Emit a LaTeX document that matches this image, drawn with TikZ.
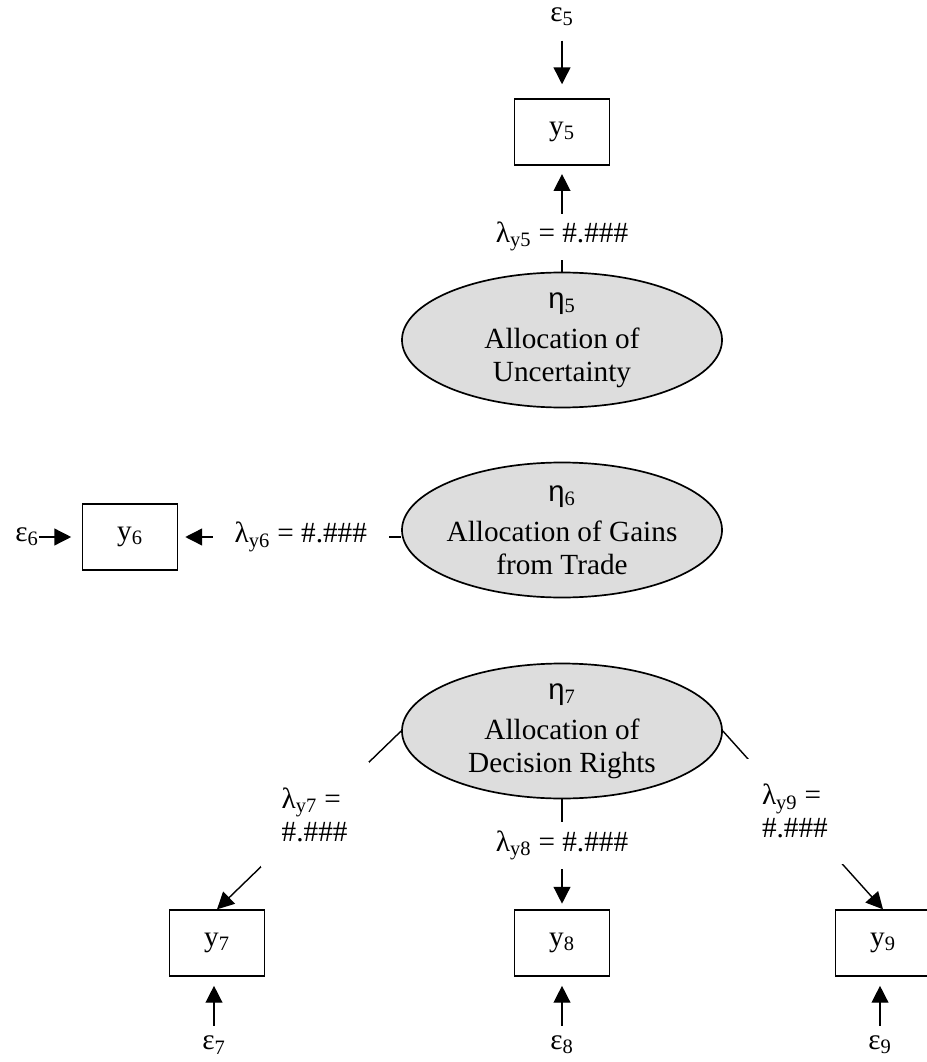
\documentclass[tikz,border=0pt]{standalone}
\usepackage{fontspec}
\setmainfont{Liberation Serif}
\newfontfamily\etafont{Liberation Sans}
\usetikzlibrary{arrows.meta, shapes.geometric}
\definecolor{LatentGray}{RGB}{221,221,221}

\tikzset{
  obs/.style={draw, line width=1pt, minimum width=67.6pt, minimum height=46.9pt, inner sep=0pt},
  latent/.style={ellipse, draw, line width=1.2pt, fill=LatentGray,
    minimum width=227.6pt, minimum height=96pt, inner xsep=-3pt, inner ysep=0pt, align=center},
  err/.style={inner sep=0pt},
  tip/.style={-{Triangle[length=12pt,width=12pt]}, line width=1pt},
  coef/.style={fill=white, inner xsep=15.5pt, inner ysep=6pt},
  coefpair/.style={fill=white, align=left, inner xsep=15pt, inner ysep=18pt},
}

\begin{document}
\begin{tikzpicture}[x=0.025cm, y=-0.025cm,
  every node/.style={font=\fontsize{20.8}{23.5}\selectfont}]
\useasboundingbox (0,0) rectangle (926,1062);

% latent constructs
\node[latent] (eta5) at (562,340) {{\etafont η}\textsubscript{5}\\[5pt]Allocation of\\Uncertainty};
\node[latent] (eta6) at (562,530) {{\etafont η}\textsubscript{6}\\[5pt]Allocation of Gains\\from Trade};
\node[latent] (eta7) at (562,731) {{\etafont η}\textsubscript{7}\\[5pt]Allocation of\\Decision Rights};

% indicators
\node[obs] (y5) at (562,132) {y\textsubscript{5}};
\node[obs] (y6) at (130,537) {y\textsubscript{6}};
\node[obs] (y7) at (217,943) {y\textsubscript{7}};
\node[obs] (y8) at (562,943) {y\textsubscript{8}};
\node[obs] (y9) at (883,943) {y\textsubscript{9}};

% error terms
\node[err] (e5) at (562,17) {ε\textsubscript{5}};
\node[err] (e6) at (27,537) {ε\textsubscript{6}};
\node[err] (e7) at (214,1045) {ε\textsubscript{7}};
\node[err] (e8) at (562,1045) {ε\textsubscript{8}};
\node[err] (e9) at (880,1045) {ε\textsubscript{9}};

\draw[tip, shorten <=10pt, shorten >=10pt] (e5) -- (y5);
\draw[tip, shorten >=7.5pt] (e6) -- (y6);
\draw[tip, shorten <=7pt, shorten >=6.5pt] (e7) -- (e7 |- y7.south);
\draw[tip, shorten <=7pt, shorten >=6.5pt] (e8) -- (y8);
\draw[tip, shorten <=7pt, shorten >=6.5pt] (e9) -- (e9 |- y9.south);

% loadings
\draw[tip, shorten >=6pt] (eta5) -- node[coef, pos=0.33] {λ\textsubscript{y5} = \#.\#\#\#} (y5);
\draw[tip, shorten >=5pt] (eta6.west |- y6) -- node[coef, pos=0.45] {λ\textsubscript{y6} = \#.\#\#\#} (y6);
\draw[tip] (eta7.west) -- node[coefpair, pos=0.47] {λ\textsubscript{y7} =\\\#.\#\#\#} (y7.north);
\draw[tip, shorten >=4pt] (eta7) -- node[coef, pos=0.42] {λ\textsubscript{y8} = \#.\#\#\#} (y8);
\draw[tip] (eta7.east) -- node[coefpair, pos=0.45] {λ\textsubscript{y9} =\\\#.\#\#\#} (y9.north);
\end{tikzpicture}
\end{document}
